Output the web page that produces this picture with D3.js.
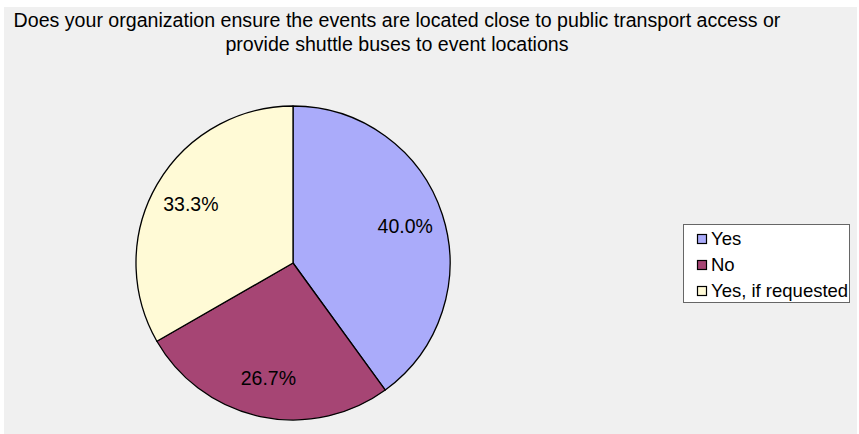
<!DOCTYPE html>
<html>
<head>
<meta charset="utf-8">
<script src="https://cdn.jsdelivr.net/npm/d3@7"></script>
<style>
  html, body { margin: 0; padding: 0; background: #fff; }
  svg { display: block; font-family: "Liberation Sans", Arial, sans-serif; }
</style>
</head>
<body>
<svg id="chart" width="859" height="434"></svg>
<script>
var categories = ["Yes", "No", "Yes, if requested"];
var values = [40.0, 26.7, 33.3];
var colors = ["#aaabfa", "#a64574", "#fffad6"];
var titleLines = [
    "Does your organization ensure the events are located close to public transport access or",
    "provide shuttle buses to event locations"
];

var width = 859, height = 434;
var svg = d3.select("#chart");

// grey chart area
svg.append("rect")
    .attr("x", 4).attr("y", 7)
    .attr("width", width - 6).attr("height", height - 7)
    .attr("fill", "#f0f0f0");

svg.append("g").selectAll("text")
    .data(titleLines)
    .enter().append("text")
    .attr("x", 397)
    .attr("y", function (d, i) { return 27 + i * 24; })
    .attr("text-anchor", "middle")
    .attr("font-size", 19.6)
    .attr("fill", "#000")
    .text(function (d) { return d; });

var cx = 293, cy = 263, radius = 157;

var data = categories.map(function (c, i) {
    return { name: c, value: values[i], color: colors[i] };
});

var pie = d3.pie().sort(null).value(function (d) { return d.value; });
var arc = d3.arc().innerRadius(0).outerRadius(radius);
var labelArc = d3.arc().innerRadius(118).outerRadius(118);

var g = svg.append("g").attr("transform", "translate(" + cx + "," + cy + ")");

g.selectAll("path")
    .data(pie(data))
    .enter().append("path")
    .attr("d", arc)
    .attr("fill", function (d) { return d.data.color; })
    .attr("stroke", "#000")
    .attr("stroke-width", 1.3)
    .attr("stroke-linejoin", "round");

g.selectAll("text")
    .data(pie(data))
    .enter().append("text")
    .attr("transform", function (d) {
        var c = labelArc.centroid(d);
        return "translate(" + c[0] + "," + c[1] + ")";
    })
    .attr("text-anchor", "middle")
    .attr("dy", "0.35em")
    .attr("font-size", 19.5)
    .attr("fill", "#000")
    .text(function (d) { return d.data.value.toFixed(1) + "%"; });

// legend
var legend = svg.append("g");
legend.append("rect")
    .attr("x", 683.5).attr("y", 224.5)
    .attr("width", 166).attr("height", 78)
    .attr("fill", "#fff")
    .attr("stroke", "#666");

var item = legend.selectAll(".item")
    .data(data)
    .enter().append("g")
    .attr("class", "item")
    .attr("transform", function (d, i) { return "translate(697," + (239 + i * 26) + ")"; });

item.append("rect")
    .attr("x", 0.5).attr("y", -4.5)
    .attr("width", 9).attr("height", 9)
    .attr("fill", function (d) { return d.color; })
    .attr("stroke", "#000")
    .attr("stroke-width", 1.2);

item.append("text")
    .attr("x", 14)
    .attr("dy", "0.35em")
    .attr("font-size", 18.5)
    .attr("fill", "#000")
    .text(function (d) { return d.name; });
</script>
</body>
</html>
